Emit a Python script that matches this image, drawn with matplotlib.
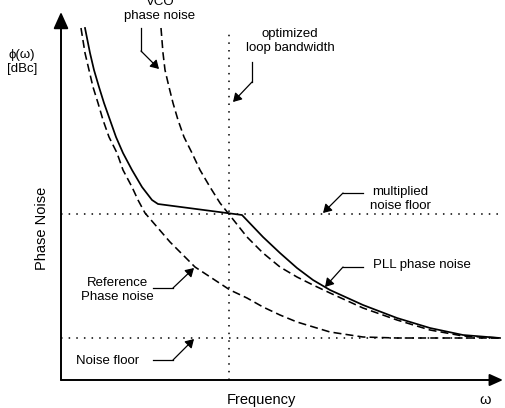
"""
PLL phase noise sketch: reference, VCO and resulting PLL phase noise
versus frequency, with the optimized loop bandwidth marked.
"""

import matplotlib
matplotlib.use('Agg')
import matplotlib.pyplot as plt

plt.rcParams['font.family'] = ['Liberation Sans', 'DejaVu Sans']

# ---------------------------------------------------------------------------
# Curve data (arbitrary units)
# ---------------------------------------------------------------------------
REF_F = [20, 24, 28, 32, 37, 42, 48, 56, 62, 71, 77, 84, 109, 134, 169, 186,
         202, 219, 236, 269, 302, 336, 439]
REF_N = [352, 327, 310, 293, 277, 260, 243, 227, 210, 193, 180, 167, 138, 113,
         90, 82, 73, 65, 58, 48, 43, 42, 42]

PLL_F = [24, 29, 33, 38, 43, 49, 55, 62, 71, 81, 91, 97, 181, 202, 219, 236,
         252, 269, 302, 336, 369, 402, 439]
PLL_N = [352, 327, 310, 293, 277, 260, 243, 227, 210, 193, 180, 176, 165, 143,
         127, 112, 100, 90, 75, 62, 52, 45, 42]

VCO_F = [100, 102, 104, 108, 112, 117, 123, 131, 139, 149, 159, 167, 186, 202,
         219, 236, 252, 269, 302, 336, 369, 402, 439]
VCO_N = [352, 327, 310, 293, 277, 260, 243, 227, 210, 193, 177, 167, 143, 127,
         113, 103, 95, 87, 72, 60, 50, 44, 42]

LOOP_BW = 168          # optimized loop bandwidth
MULT_FLOOR = 166       # multiplied noise floor
NOISE_FLOOR = 42       # noise floor
F_MAX, N_MAX = 442, 368

# callouts: (text, text position, leader polyline, alignment)
CALLOUTS = [
    ("VCO\nphase noise", (99, 371), [(80, 352), (80, 329), (98, 311)], "center"),
    ("optimized\nloop bandwidth", (229, 339), [(191, 318), (191, 298), (172, 278)], "center"),
    ("multiplied\nnoise floor", (309, 181), [(302, 187), (282, 187), (262, 167)], "left"),
    ("PLL phase noise", (312, 115), [(302, 113), (282, 113), (264, 93)], "left"),
    ("Reference\nPhase noise", (56, 90), [(92, 92), (112, 92), (133, 112)], "center"),
    ("Noise floor", (15, 19), [(92, 20), (112, 20), (133, 41)], "left"),
]

W, H = 505, 408
fig = plt.figure(figsize=(W / 100, H / 100), dpi=100)
ax = fig.add_axes([61 / W, 28 / H, (503 - 61) / W, (380 - 12) / H])
ax.set_xlim(0, F_MAX)
ax.set_ylim(0, N_MAX)
ax.axis("off")

# axis arrows
arrow_kw = dict(arrowstyle="-|>,head_length=1.0,head_width=0.45",
                color="black", lw=1.4, shrinkA=0, shrinkB=0)
ax.annotate("", xy=(0, N_MAX), xytext=(0, 0), arrowprops=dict(mutation_scale=10, **arrow_kw),
            annotation_clip=False)
ax.annotate("", xy=(F_MAX, 0), xytext=(0, 0), arrowprops=dict(mutation_scale=8, **arrow_kw),
            annotation_clip=False)

# dotted guide lines
dot = dict(color="black", lw=1.1, linestyle=(0, (1, 4)))
ax.plot([LOOP_BW, LOOP_BW], [0, 350], **dot)
ax.plot([0, 439], [MULT_FLOOR, MULT_FLOOR], **dot)
ax.plot([0, 439], [NOISE_FLOOR, NOISE_FLOOR], **dot)

# curves
dash = dict(color="black", lw=1.15, linestyle=(0, (5, 2.6)))
ax.plot(REF_F, REF_N, **dash)
ax.plot(VCO_F, VCO_N, **dash)
ax.plot(PLL_F, PLL_N, color="black", lw=1.25)

# callouts with leader lines
for text, (tx, ty), path, ha in CALLOUTS:
    ax.text(tx, ty, text, ha=ha, va="center", fontsize=9.5, multialignment="center",
            linespacing=1.15, clip_on=False)
    xs, ys = zip(*path)
    ax.plot(xs[:-1], ys[:-1], color="black", lw=0.9)
    ax.annotate("", xy=path[-1], xytext=path[-2],
                arrowprops=dict(arrowstyle="-|>,head_length=0.5,head_width=0.3",
                                color="black", lw=0.9, shrinkA=0, shrinkB=0,
                                mutation_scale=10))

# axis labels
ax.text(-39, 318, "\u03d5(\u03c9)\n[dBc]", ha="center", va="center", fontsize=9.5,
        linespacing=1.3, clip_on=False)
ax.text(-19, 152, "Phase Noise", ha="center", va="center", rotation=90, fontsize=10.5,
        clip_on=False)
ax.text(200, -20, "Frequency", ha="center", va="center", fontsize=10.5, clip_on=False)
ax.text(424, -20, "\u03c9", ha="center", va="center", fontsize=10.5, clip_on=False)

fig.savefig("out.png", dpi=100)
